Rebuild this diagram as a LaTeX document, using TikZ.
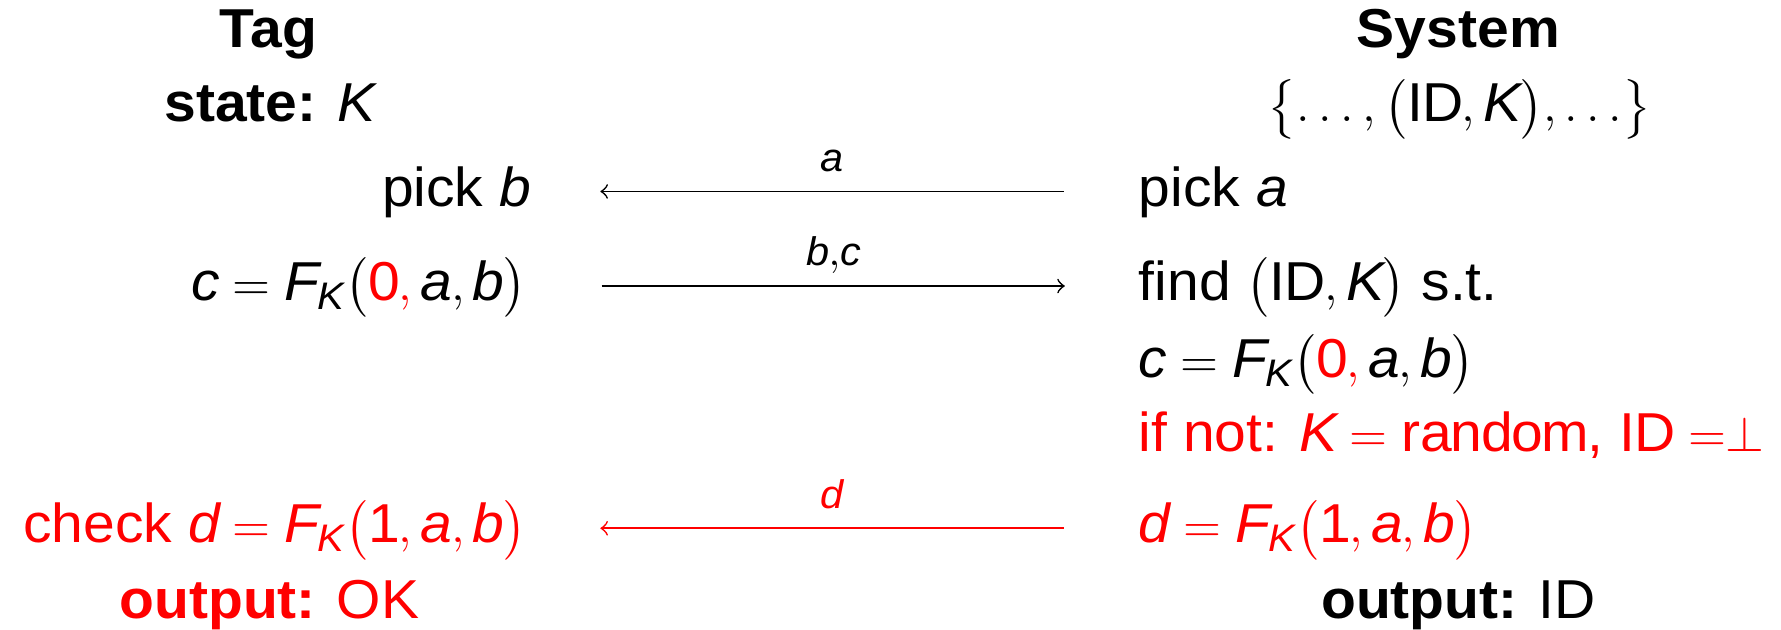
\documentclass[tikz,border=0pt]{standalone}
\usepackage{amsmath}
\usepackage{fontspec}
\setmainfont{Liberation Sans}[FakeStretch=1.04]
\usepackage{xcolor}
\newcommand{\bodyfont}{\fontsize{13.2}{16}\selectfont}
\newcommand{\headfont}{\fontsize{13.2}{16}\selectfont\bfseries}
\newcommand{\msgfont}{\fontsize{9.6}{11}\selectfont}
\newcommand{\mv}[1]{\mathit{#1}}
\newcommand{\FK}{\mv{F}_{\mv{K}}}
\begin{document}
\begin{tikzpicture}[every node/.style={inner sep=0pt,font=\bodyfont},
  head/.style={anchor=base,font=\headfont},
  msg/.style={anchor=base,yshift=0.17cm,font=\msgfont}]
\useasboundingbox (0,0) rectangle (15.07,-5.33);
% tag side
\node[head] (tag) at (2.27,-0.40) {Tag};
\node[anchor=base] (tagstate) at (2.28,-1.03) {\textbf{state:} $\mv{K}$};
\node[anchor=base east] (pickb) at (4.49,-1.75) {pick $\mv{b}$};
\node[anchor=base east] (tagc) at (4.46,-2.54) {$\mv{c} = \FK\bigl(\textcolor{red}{\mathrm{0},}\,\mv{a},\mv{b}\bigr)$};
\node[anchor=base east,red] (check) at (4.46,-4.59) {check $\mv{d} = \FK\bigl(\mathrm{1},\mv{a},\mv{b}\bigr)$};
\node[anchor=base,red] (tagout) at (2.28,-5.23) {\textbf{output:} OK};
% system side
\node[head] (sys) at (12.34,-0.40) {System};
\node[anchor=base] (db) at (12.35,-1.03) {$\bigl\{\ldots,\bigl(\mathrm{ID},\mv{K}\bigr),\ldots\bigr\}$};
\node[anchor=base west] (picka) at (9.63,-1.75) {pick $\mv{a}$};
\node[anchor=base west] (find) at (9.63,-2.54) {find $\bigl(\mathrm{ID},\mv{K}\bigr)$ s.t.};
\node[anchor=base west] (sysc) at (9.63,-3.19) {$\mv{c} = \FK\bigl(\textcolor{red}{\mathrm{0},}\,\mv{a},\mv{b}\bigr)$};
\node[anchor=base west,red] (ifnot) at (9.63,-3.82) {if not: $\mv{K} = \mathrm{random}$, $\mathrm{ID} \mathrel{=}\mathrel{\perp}$};
\node[anchor=base west,red] (sysd) at (9.63,-4.59) {$\mv{d} = \FK\bigl(\mathrm{1},\mv{a},\mv{b}\bigr)$};
\node[anchor=base] (sysout) at (12.34,-5.23) {\textbf{output:} ID};
% messages
\coordinate (aR) at (9.00,-1.62);
\coordinate (aL) at (5.08,-1.62);
\coordinate (bcL) at (5.09,-2.42);
\coordinate (bcR) at (9.01,-2.42);
\coordinate (dR) at (9.00,-4.47);
\coordinate (dL) at (5.08,-4.47);
\draw[->] (aR) -- node[msg] (ma) {$\mv{a}$} (aL);
\draw[->] (bcL) -- node[msg] (mbc) {$\mv{b}{,}\mv{c}$} (bcR);
\draw[->,red] (dR) -- node[msg] (md) {$\mv{d}$} (dL);
\end{tikzpicture}
\end{document}
